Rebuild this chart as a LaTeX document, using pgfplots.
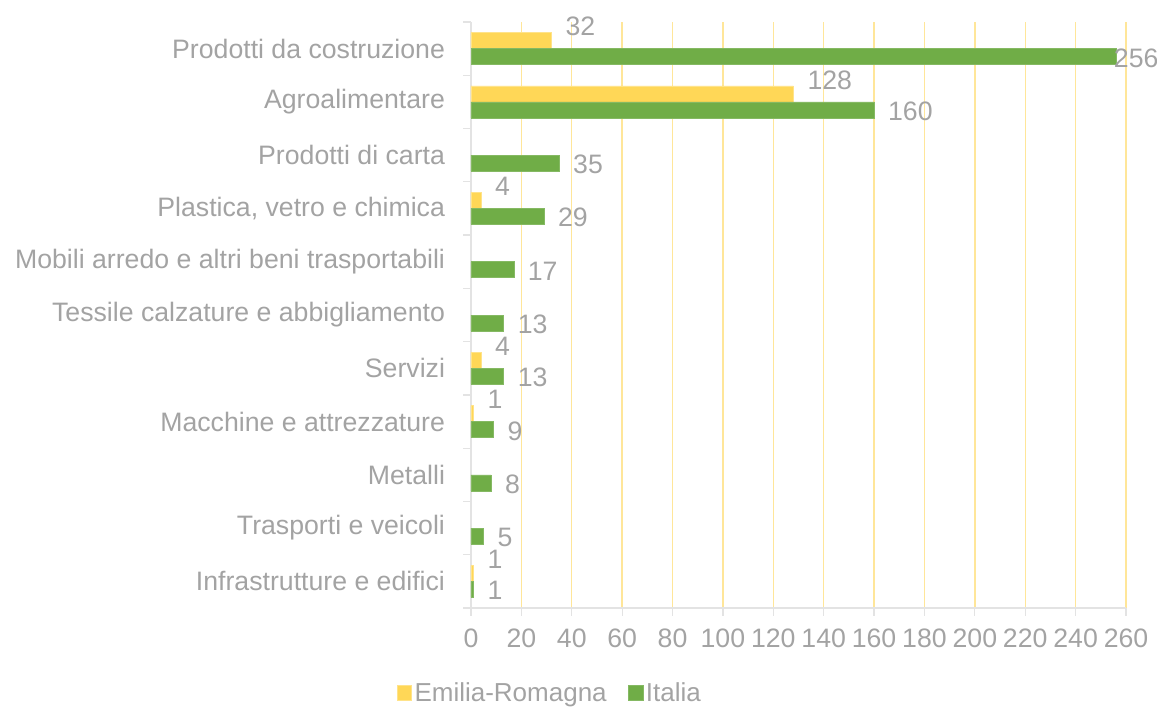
\documentclass[border=0pt]{standalone}
\usepackage{pgfplots}
\pgfplotsset{compat=1.18}
\usepackage{fontspec}
\setmainfont{Liberation Sans}
\definecolor{erY}{HTML}{FFD757}
\definecolor{erYedge}{HTML}{FFE38A}
\definecolor{itG}{HTML}{70AD47}
\definecolor{gridY}{HTML}{FFE699}
\definecolor{txt}{HTML}{A3A3A3}
\definecolor{axl}{HTML}{E3E3E3}
\begin{document}
\begin{tikzpicture}
\path[use as bounding box] (-353.25pt,-75pt) rectangle (514.5pt,456pt);
\begin{axis}[
  at={(0,0)}, anchor=south west,
  scale only axis,
  width=491.25pt, height=439.5pt,
  /pgf/number format/assume math mode=true,
  xmin=0, xmax=260,
  ymin=-0.5, ymax=10.5,
  xtick={0,20,...,260},
  ytick={0,...,10},
  yticklabels={Infrastrutture e edifici,Trasporti e veicoli,Metalli,Macchine e attrezzature,Servizi,Tessile calzature e abbigliamento,Mobili arredo e altri beni trasportabili,{Plastica, vetro e chimica},Prodotti di carta,Agroalimentare,Prodotti da costruzione},
  extra y ticks={-0.5,0.5,...,10.5},
  extra y tick labels={},
  extra y tick style={y tick style={draw=axl,line width=0.9pt}, major tick length=6pt, tick align=outside},
  y tick style={draw=none},
  x tick style={draw=axl,line width=0.9pt},
  major tick length=6pt,
  tick align=outside,
  xmajorgrids,
  grid style={draw=gridY, line width=1pt},
  axis line style={draw=axl, line width=0.9pt},
  axis x line*=bottom,
  axis y line*=left,
  x axis line style={-},
  y axis line style={-},
  ticklabel style={font=\fontsize{20pt}{22pt}\selectfont, text=txt},
  yticklabel style={xshift=-10pt},
  xticklabel style={yshift=-6pt},
  xbar, bar width=12pt,
  clip=false,
  legend style={at={(-0.12,-0.145)}, anchor=west, draw=none, fill=none,
    font=\fontsize{19.5pt}{21pt}\selectfont, text=txt, legend columns=2,
    /tikz/every even column/.append style={column sep=14pt}},
  legend image code/.code={\fill[#1] (0pt,-5.5pt) rectangle (11pt,5.5pt);},
  nodes near coords,
  nodes near coords style={font=\fontsize{20pt}{22pt}\selectfont, text=txt, anchor=west},
]
\addplot[fill=erY, draw=erYedge, bar shift=6pt,
  nodes near coords style={xshift=7pt, yshift=10.5pt}]
  coordinates {(32,10) (128,9) (4,7) (4,4) (1,3) (1,0)};
\addlegendentry{Emilia-Romagna}
\addplot[fill=itG, draw=itG!85!white, bar shift=-6pt,
  nodes near coords style={xshift=7pt, yshift=-1pt}]
  coordinates {(160,9) (35,8) (29,7) (17,6) (13,5) (13,4) (9,3) (8,2) (5,1) (1,0)};
\addlegendentry{Italia}
\addplot[fill=itG, draw=itG!85!white, bar shift=-6pt, forget plot,
  nodes near coords style={xshift=-5pt, yshift=-1pt}]
  coordinates {(256,10)};
\end{axis}
\end{tikzpicture}
\end{document}
